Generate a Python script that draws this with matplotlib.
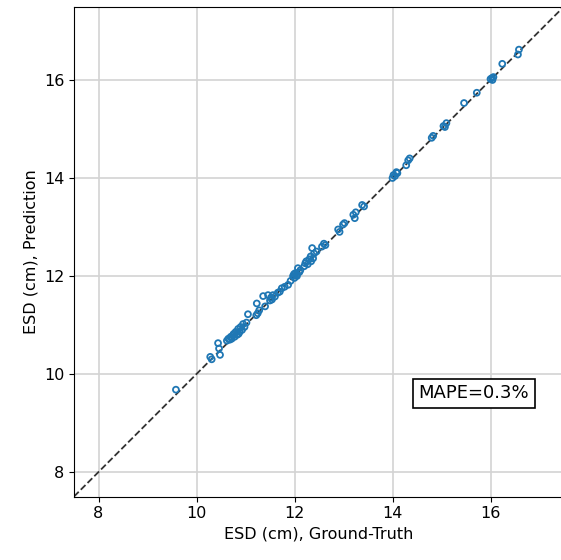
import numpy as np
import matplotlib
matplotlib.use("Agg")
import matplotlib.pyplot as plt

# ground-truth vs predicted ESD (cm)
gt = [9.58, 10.28, 10.31, 10.44, 10.48, 10.46, 10.62, 10.65, 10.68, 10.70, 10.72,
      10.75, 10.78, 10.80, 10.83, 10.85, 10.88, 10.90, 10.93, 10.95, 10.98, 11.02,
      11.05, 11.23, 11.22, 11.25, 11.28, 11.36, 11.40, 11.46, 11.50, 11.52, 11.56,
      11.60, 11.66, 11.70, 11.74, 11.80, 11.87, 11.92, 11.97, 12.00, 12.02, 12.04,
      12.07, 12.10, 12.12, 12.20, 12.24, 12.27, 12.30, 12.33, 12.36, 12.38, 12.40,
      12.45, 12.56, 12.60, 12.63, 12.89, 12.92, 12.99, 13.02, 13.20, 13.23, 13.25,
      13.38, 13.42, 14.00, 14.02, 14.05, 14.08, 14.10, 14.28, 14.32, 14.35, 14.80,
      14.83, 15.04, 15.07, 15.10, 15.46, 15.72, 16.00, 16.03, 16.06, 16.24, 16.56,
      16.58, 10.76, 10.86, 11.99, 12.05, 12.22, 12.34, 11.54, 16.04]
pred = [9.68, 10.35, 10.30, 10.63, 10.39, 10.52, 10.68, 10.72, 10.70, 10.76, 10.72,
        10.80, 10.76, 10.86, 10.80, 10.92, 10.86, 10.96, 10.90, 11.02, 10.96, 11.05,
        11.22, 11.44, 11.20, 11.24, 11.30, 11.59, 11.38, 11.61, 11.50, 11.56, 11.61,
        11.58, 11.66, 11.68, 11.75, 11.78, 11.82, 11.90, 12.00, 11.96, 12.06, 12.02,
        12.16, 12.08, 12.12, 12.20, 12.30, 12.24, 12.34, 12.40, 12.57, 12.36, 12.46,
        12.50, 12.60, 12.66, 12.63, 12.95, 12.90, 13.05, 13.08, 13.25, 13.18, 13.30,
        13.45, 13.42, 14.00, 14.06, 14.04, 14.12, 14.10, 14.26, 14.36, 14.40, 14.82,
        14.86, 15.06, 15.04, 15.12, 15.53, 15.74, 16.02, 16.04, 16.06, 16.33, 16.52,
        16.62, 10.82, 10.82, 12.04, 12.00, 12.26, 12.30, 11.52, 16.00]
lims = [7.5, 17.5]
ticks = [8, 10, 12, 14, 16]
mape_text = "MAPE=0.3%"

fig = plt.figure(figsize=(5.61, 5.60), dpi=100)
ax = fig.add_axes([74 / 561, 63.5 / 560, 490 / 561, 490 / 560])

ax.plot(lims, lims, ls="--", color="#333333", lw=1.3, zorder=2)
ax.scatter(gt, pred, s=18, facecolors="none", edgecolors="#1f77b4",
           linewidths=1.3, zorder=3)

ax.set_xlim(lims)
ax.set_ylim(lims)
ax.set_xticks(ticks)
ax.set_yticks(ticks)
ax.tick_params(labelsize=11.5)
ax.grid(True, color="#d3d3d3", lw=1.2)
ax.set_axisbelow(True)
ax.set_xlabel("ESD (cm), Ground-Truth", fontsize=11.5)
ax.set_ylabel("ESD (cm), Prediction", fontsize=11.5)

ax.text(15.66, 9.61, mape_text, ha="center", va="center", fontsize=13,
        bbox=dict(boxstyle="square,pad=0.3", facecolor="white",
                  edgecolor="black", lw=1.2))

fig.savefig("out.png", dpi=100)
